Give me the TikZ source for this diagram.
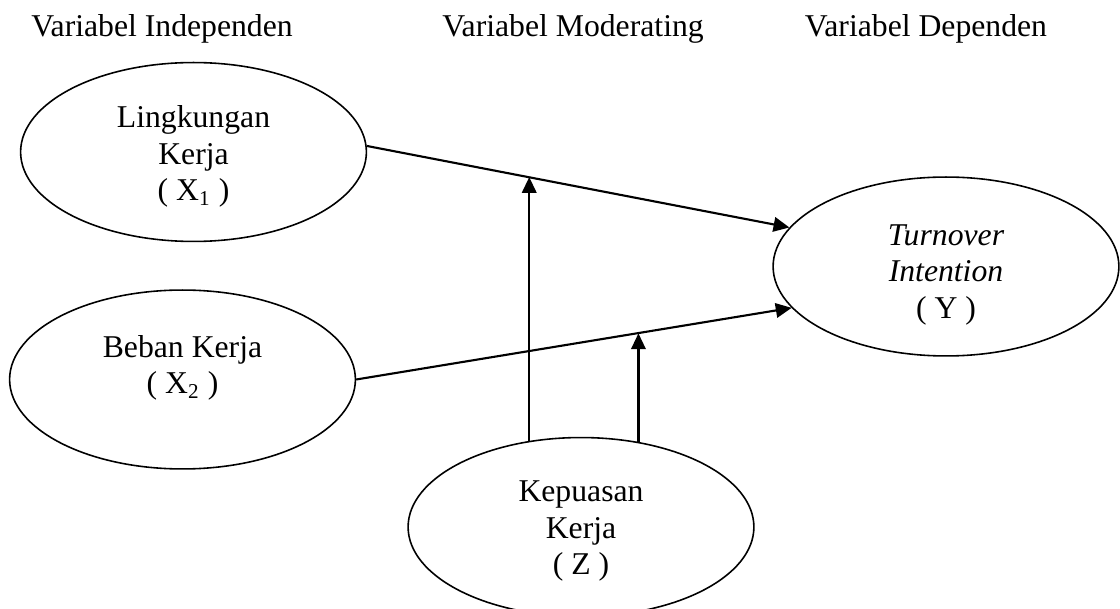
\documentclass[tikz,border=0pt]{standalone}
\usepackage{fontspec}
\setmainfont{Liberation Serif}
\usetikzlibrary{positioning,arrows.meta,shapes.geometric}

\begin{document}
\begin{tikzpicture}[
    x=0.3785pt, y=-0.3785pt,
    font=\fontsize{12}{13.8}\selectfont,
    var/.style={draw, ellipse, line width=0.6pt, minimum width=4.6cm,
                minimum height=2.38cm, inner sep=0pt, align=center,
                text depth=3pt, text height=#1},
    var/.default=40pt,
    head/.style={anchor=base, inner sep=0pt},
    arrow/.style={-{Triangle[length=6pt, width=5.5pt]}, line width=0.8pt}
  ]
    \useasboundingbox (0,0) rectangle (1120,609);

    % Column headings
    \node[head] (hind) at (162,37) {Variabel Independen};
    \node[head] (hmod) at (573,37) {Variabel Moderating};
    \node[head] (hdep) at (926,37) {Variabel Dependen};

    % Independent variables
    \node[var] (x1) at (193.5,152)
      {Lingkungan\\Kerja\\( X\textsubscript{1} )};
    \node[var=13.6pt] (x2) at (182.5,379.5)
      {Beban Kerja\\( X\textsubscript{2} )};
    % Dependent variable
    \node[var=42pt] (y) at (946,266.5)
      {\textit{Turnover}\\\textit{Intention}\\( Y )};
    % Moderating variable
    \node[var=39pt] (z) at (581,527)
      {Kepuasan\\Kerja\\( Z )};

    % Arrows
    \draw[arrow] (x1.2) -- coordinate[pos=0.382] (m1) (y.166);
    \draw[arrow] (x2.east) -- coordinate[pos=0.644] (m2) (y.195);
    \draw[arrow] (z.121) -- (z.121 |- m1);
    \draw[arrow] (z.56) -- (z.56 |- m2);
  \end{tikzpicture}
\end{document}
